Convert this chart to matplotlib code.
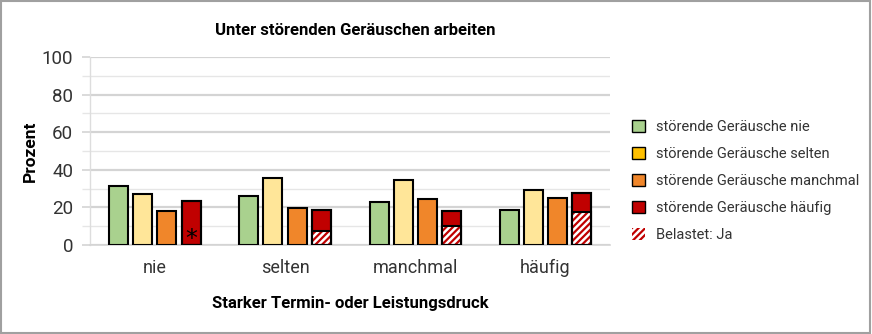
import matplotlib
matplotlib.use('Agg')
import matplotlib.pyplot as plt
import numpy as np
from matplotlib.patches import Patch, Rectangle
from matplotlib.ticker import MultipleLocator

# ---------------- data ----------------
categories = ['nie', 'selten', 'manchmal', 'häufig']
series_names = ['störende Geräusche nie', 'störende Geräusche selten',
                'störende Geräusche manchmal', 'störende Geräusche häufig']
geraeusche_nie = [31.5, 26.1, 23.0, 18.6]
geraeusche_selten = [27.1, 35.8, 34.6, 29.1]
geraeusche_manchmal = [18.1, 19.7, 24.6, 25.0]
geraeusche_haeufig = [23.4, 18.6, 18.3, 27.8]
belastet_ja = [0.0, 7.6, 9.9, 17.4]   # hatched part of the "häufig" bar
hatch_label = 'Belastet: Ja'
y_ticks = [0, 20, 40, 60, 80, 100]

bar_colors = ['#A9D18E', '#FFE699', '#F0862A', '#C00000']
legend_colors = ['#A9D18E', '#FFC000', '#F0862A', '#C00000']

plt.rcParams['font.family'] = ['Roboto', 'DejaVu Sans']
plt.rcParams['hatch.linewidth'] = 1.6

fig = plt.figure(figsize=(8.72, 3.34), dpi=100)
ax = fig.add_axes([0.103, 0.2665, 0.597, 0.5625])

x = np.arange(len(categories))
width = 0.146
step = 0.185
offsets = (np.arange(4) - 1.5) * step
series = [geraeusche_nie, geraeusche_selten, geraeusche_manchmal, geraeusche_haeufig]

for i, vals in enumerate(series):
    ax.bar(x + offsets[i], vals, width, color=bar_colors[i], edgecolor='black',
           linewidth=1.5, zorder=3)

# hatched lower part of the red bars
ax.bar(x + offsets[3], belastet_ja, width, color='white', edgecolor='#C00000',
       hatch='/////', linewidth=0, zorder=4)
ax.bar(x + offsets[3], belastet_ja, width, fill=False, edgecolor='black',
       linewidth=1.5, zorder=5)
ax.bar(x + offsets[3], geraeusche_haeufig, width, fill=False, edgecolor='black',
       linewidth=1.5, zorder=5)

ax.text(x[0] + offsets[3], 3.0, '*', ha='center', va='center', fontsize=17,
        family='DejaVu Sans', color='black', zorder=6)

ax.set_xlim(-0.5, 3.5)
ax.set_ylim(0, 100)
ax.set_xticks(x)
ax.set_xticklabels(categories, fontsize=13, color='#333333')
ax.set_yticks(y_ticks)
ax.set_yticklabels([str(v) for v in y_ticks], fontsize=13.5, color='#333333')
ax.yaxis.set_minor_locator(MultipleLocator(10))

ax.grid(axis='y', which='major', color='#d4d4d4', linewidth=1.6, zorder=0)
ax.grid(axis='y', which='minor', color='#e6e6e6', linewidth=1.0, zorder=0)
ax.tick_params(axis='x', length=0, pad=10)
ax.tick_params(axis='y', which='major', length=6, color='#d4d4d4', width=1.2, pad=6)
ax.tick_params(axis='y', which='minor', length=6, color='#e6e6e6', width=1.0)

for s in ['top', 'right']:
    ax.spines[s].set_visible(False)
ax.spines['left'].set_color('#dddddd')
ax.spines['left'].set_linewidth(1.0)
ax.spines['bottom'].set_color('#d4d4d4')
ax.spines['bottom'].set_linewidth(1.2)

ax.set_ylabel('Prozent', fontsize=12.5, fontweight='bold', labelpad=3)
ax.set_xlabel('Starker Termin- oder Leistungsdruck', fontsize=12,
              fontweight='bold', labelpad=14)
fig.text(0.407, 0.91, 'Unter störenden Geräuschen arbeiten', ha='center',
         va='center', fontsize=12, fontweight='bold')

handles = [Patch(facecolor=c, edgecolor='black', linewidth=1.0) for c in legend_colors]
handles.append(Patch(facecolor='white', edgecolor='#C00000', hatch='/////', linewidth=0))
labels = series_names + [hatch_label]
leg = fig.legend(handles, labels, loc='center left', bbox_to_anchor=(0.71, 0.458),
                 frameon=False, fontsize=10.5, handlelength=0.9, handleheight=0.9,
                 handletextpad=0.7, labelspacing=0.88, labelcolor='#333333')

fig.patches.append(Rectangle((0.001, 0.002), 0.997, 0.995, transform=fig.transFigure,
                             fill=False, edgecolor='#a0a0a0', linewidth=1.5))

fig.savefig('out.png', dpi=100)
